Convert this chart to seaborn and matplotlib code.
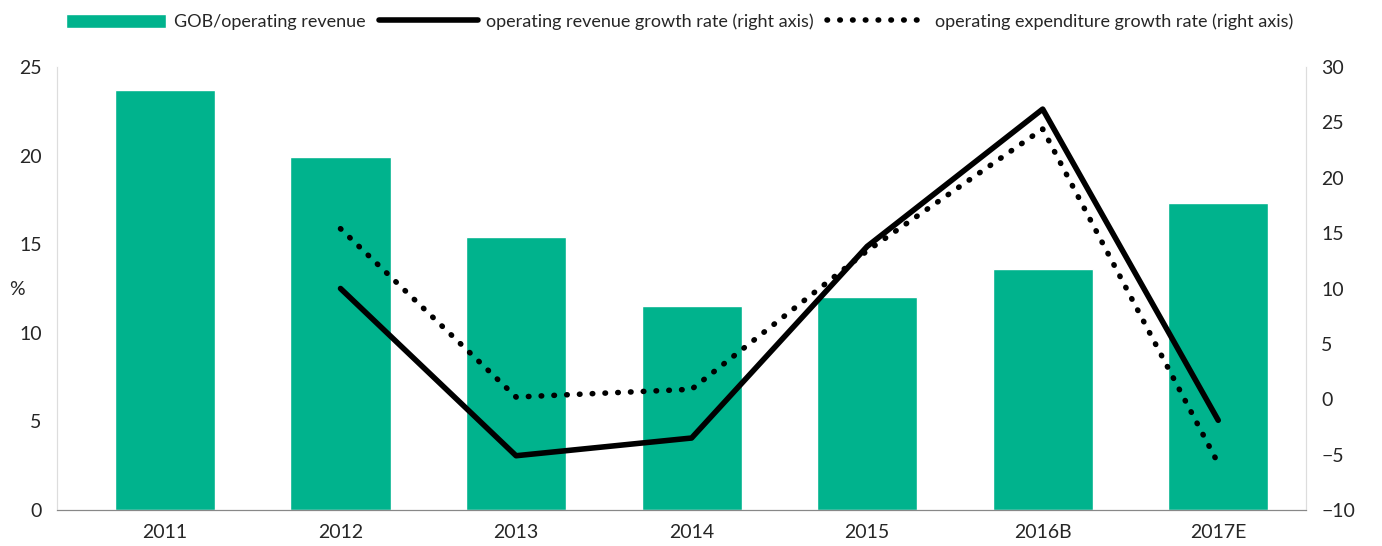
import numpy as np
import pandas as pd
import matplotlib
matplotlib.use("Agg")
import matplotlib.pyplot as plt
import seaborn as sns
from matplotlib.lines import Line2D
from matplotlib.patches import Patch

years = ["2011", "2012", "2013", "2014", "2015", "2016B", "2017E"]
gob_ratio = [23.7, 19.9, 15.4, 11.5, 12.0, 13.6, 17.3]
rev_growth = [np.nan, 10.0, -5.1, -3.5, 13.8, 26.2, -1.9]
exp_growth = [np.nan, 15.4, 0.2, 0.9, 13.4, 24.4, -5.8]

teal = "#00B38D"

sns.set_style("white")
plt.rcParams["font.family"] = ["Lato", "DejaVu Sans"]

df = pd.DataFrame({"year": years, "gob": gob_ratio, "rev": rev_growth, "exp": exp_growth})

fig = plt.figure(figsize=(13.82, 5.46), dpi=100)
ax = fig.add_axes([57 / 1382, 36 / 546, (1306 - 57) / 1382, (510 - 67) / 546])

sns.barplot(data=df, x="year", y="gob", color=teal, width=0.57, saturation=1, ax=ax)
ax.set_ylim(0, 25)
ax.set_yticks(range(0, 26, 5))
ax.set_xlim(-0.615, 6.5)
ax.set_xlabel("")
ax.set_ylabel("%", fontsize=14, rotation=0, va="center")
ax.yaxis.set_label_coords(-0.032, 0.497)

ax2 = ax.twinx()
x = np.arange(len(years))
ax2.plot(x, df["rev"], color="black", lw=4, solid_capstyle="round")
ax2.plot(x, df["exp"], color="black", lw=4, linestyle=(0, (0.1, 2.2)), dash_capstyle="round")
ax2.set_ylim(-10, 30)
ax2.set_yticks(range(-10, 31, 5))
ax2.set_xlim(-0.615, 6.5)

for a in (ax, ax2):
    a.tick_params(axis="both", length=0, labelsize=14, pad=11)
    a.spines["top"].set_visible(False)
    a.spines["left"].set_color("#dddddd")
    a.spines["right"].set_color("#dddddd")
    a.spines["bottom"].set_color("#888888")
ax.tick_params(axis="x", pad=10)

handles = [
    Patch(facecolor=teal, label="GOB/operating revenue"),
    Line2D([0], [0], color="black", lw=4, label="operating revenue growth rate (right axis)"),
    Line2D([0], [0], color="black", lw=4, linestyle=(0, (0.1, 2.2)), dash_capstyle="round",
           label="operating expenditure growth rate (right axis)"),
]
fig.legend(handles=handles, loc="upper left", bbox_to_anchor=(50 / 1382, 1.005), ncol=3,
           frameon=False, fontsize=13, handlelength=5.5, handleheight=0.8,
           columnspacing=0.75, handletextpad=0.45)

fig.savefig("out.png", dpi=100)
